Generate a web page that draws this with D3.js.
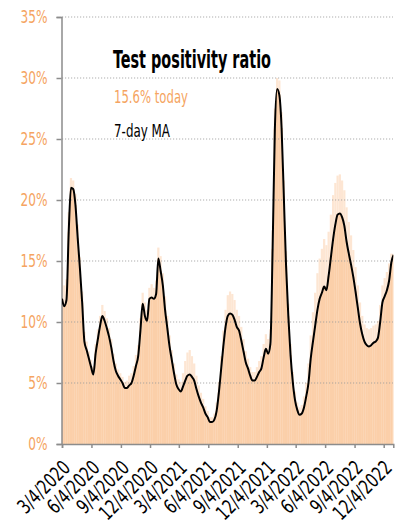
<html>
<head>
<style>
body { margin: 0; background: #fff; }
text { font-family: "Liberation Sans Narrow", "DejaVu Sans Condensed", sans-serif; }
</style>
</head>
<body>
<svg width="402" height="521"></svg>
<script src="https://cdn.jsdelivr.net/npm/d3@7"></script>
<script>
// weekly readings, first week starts 3/4/2020
let startDate = new Date(2020, 2, 4);
let endDate = new Date(2023, 0, 3);

// 7-day moving average (%)
let ma = [11.9, 11.3, 11.8, 17.4, 21.0, 20.9, 19.6, 16.9, 14.4, 11.6,
  8.4, 7.7, 7.0, 6.3, 5.7, 7.4, 8.6, 9.7, 10.5, 10.1,
  9.5, 8.8, 7.9, 6.8, 6.0, 5.6, 5.3, 5.0, 4.6, 4.6,
  4.8, 5.0, 5.6, 6.4, 7.2, 9.3, 11.5, 10.5, 10.1, 11.9,
  12.0, 11.9, 12.3, 15.2, 14.2, 13.0, 11.0, 9.5, 8.0, 6.9,
  5.8, 4.9, 4.5, 4.3, 4.7, 5.2, 5.6, 5.7, 5.5, 5.2,
  4.5, 3.9, 3.4, 3.0, 2.5, 2.2, 1.8, 1.8, 2.0, 2.7,
  4.2, 6.1, 8.0, 9.6, 10.5, 10.7, 10.6, 10.2, 9.6, 9.3,
  8.5, 7.6, 6.7, 6.2, 5.6, 5.2, 5.2, 5.5, 5.9, 6.2,
  7.1, 7.8, 7.4, 8.2, 16.0, 25.8, 29.1, 28.6, 25.9, 20.3,
  14.6, 10.5, 7.3, 5.1, 3.6, 2.8, 2.4, 2.5, 3.0, 3.9,
  5.0, 7.0, 8.4, 9.7, 11.0, 11.9, 12.4, 12.9, 12.6, 13.8,
  15.3, 16.8, 18.0, 18.8, 18.9, 18.6, 17.9, 16.6, 15.6, 14.7,
  13.7, 12.5, 11.2, 9.9, 9.0, 8.4, 8.1, 8.0, 8.1, 8.3,
  8.4, 8.7, 10.0, 11.6, 12.1, 12.6, 13.4, 14.9, 15.5];

// highest daily reading of each week (%)
let daily = [14.5, 13.0, 13.5, 19.0, 21.8, 21.6, 20.5, 18.0, 15.3, 12.5,
  9.2, 8.4, 7.6, 6.9, 6.4, 8.2, 9.4, 10.5, 11.4, 10.9,
  10.3, 9.5, 8.6, 7.4, 6.6, 6.1, 5.8, 5.5, 5.1, 5.2,
  5.6, 5.8, 6.4, 7.3, 8.1, 10.3, 12.4, 11.6, 11.0, 12.8,
  13.1, 12.8, 13.4, 16.1, 15.4, 14.0, 12.1, 10.5, 8.9, 7.7,
  6.6, 5.7, 5.3, 5.1, 5.8, 6.8, 7.5, 7.7, 7.2, 6.6,
  5.6, 4.8, 4.2, 3.7, 3.1, 2.7, 2.2, 2.2, 2.5, 3.4,
  5.1, 7.2, 9.3, 11.0, 12.2, 12.5, 12.3, 11.8, 11.0, 10.5,
  9.6, 8.6, 7.6, 7.0, 6.3, 5.9, 5.9, 6.3, 6.8, 7.2,
  8.2, 9.0, 8.6, 9.4, 17.5, 27.5, 30.0, 29.8, 27.2, 21.6,
  15.8, 11.5, 8.2, 5.9, 4.3, 3.4, 3.0, 3.2, 3.9, 5.0,
  6.6, 8.9, 10.8, 12.4, 14.0, 15.2, 16.0, 16.8, 16.3, 17.4,
  18.8, 20.4, 21.4, 22.0, 22.1, 21.6, 20.8, 19.4, 18.2, 17.1,
  15.9, 14.5, 13.0, 11.6, 10.5, 9.8, 9.5, 9.4, 9.5, 9.7,
  9.8, 10.1, 11.4, 13.0, 13.6, 14.1, 14.8, 15.6, 15.6];

let yTicks = [0, 5, 10, 15, 20, 25, 30, 35];
let xTicks = ["3/4/2020", "6/4/2020", "9/4/2020", "12/4/2020", "3/4/2021", "6/4/2021",
  "9/4/2021", "12/4/2021", "3/4/2022", "6/4/2022", "9/4/2022", "12/4/2022"];

let title = "Test positivity ratio";
let today = "15.6% today";
let maLabel = "7-day MA";

let orange = "#f5a461";
let fill = "#fbcfa9";

let parse = d3.timeParse("%-m/%-d/%Y");
let data = ma.map(function(v, i) {
  return { date: d3.timeDay.offset(startDate, 7 * i), ma: v, high: daily[i] };
});

let svg = d3.select("svg");
let x = d3.scaleTime().domain([startDate, endDate]).range([62, 393.3]);
let y = d3.scaleLinear().domain([0, 35]).range([444, 17]);

svg.append("clipPath").attr("id", "plot")
  .append("rect").attr("x", 62).attr("y", 0).attr("width", 331.3).attr("height", 444);

let bw = x(d3.timeDay.offset(startDate, 7)) - x(startDate);

let bars = svg.append("g").attr("clip-path", "url(#plot)");
bars.selectAll(".high").data(data).join("rect")
  .attr("class", "high")
  .attr("x", function(d) { return x(d.date) - bw / 2; })
  .attr("width", bw)
  .attr("y", function(d) { return y(d.high); })
  .attr("height", function(d) { return y(0) - y(d.high); })
  .attr("fill", "#fde6d3");
bars.selectAll(".low").data(data).join("rect")
  .attr("class", "low")
  .attr("x", function(d) { return x(d.date) - bw / 2; })
  .attr("width", bw)
  .attr("y", function(d) { return y(d.ma); })
  .attr("height", function(d) { return y(0) - y(d.ma); })
  .attr("fill", fill);

// gridlines
svg.append("g").selectAll("line").data(yTicks.slice(1)).join("line")
  .attr("x1", 62).attr("x2", 393)
  .attr("y1", function(d) { return y(d); })
  .attr("y2", function(d) { return y(d); })
  .attr("stroke", "#9a9a9a")
  .attr("stroke-opacity", 0.8)
  .attr("stroke-dasharray", "1.2,1.8");

// y axis
let yAxis = svg.append("g").attr("transform", "translate(61.5,0)")
  .call(d3.axisLeft(y).tickValues(yTicks).tickSize(5).tickPadding(9)
    .tickFormat(function(d) { return d + "%"; }));
yAxis.select(".domain").attr("stroke", "#8c8c8c").attr("stroke-width", 1.5);
yAxis.selectAll(".tick line").attr("stroke", "#8c8c8c").attr("stroke-width", 1.5);
yAxis.selectAll(".tick text").attr("fill", orange).attr("font-size", 18)
  .attr("x", -18.7)
  .attr("transform", "scale(0.75,1)")
  .style("font-family", null);

// x axis
let xAxis = svg.append("g").attr("transform", "translate(0,444)")
  .call(d3.axisBottom(x).tickValues(xTicks.map(parse)).tickSize(4)
    .tickFormat(d3.timeFormat("%-m/%-d/%Y")));
xAxis.select(".domain").attr("stroke", "#8c8c8c").attr("stroke-width", 1.5);
xAxis.selectAll(".tick line").attr("stroke", "#8c8c8c").attr("stroke-width", 1.5);
xAxis.selectAll(".tick text")
  .attr("fill", "#000").attr("font-size", 20)
  .attr("text-anchor", "end")
  .attr("dy", 0)
  .attr("transform", "translate(9,25) rotate(-45) scale(0.8,1)")
  .attr("y", 0).attr("x", 0);

// moving average line
svg.append("path").datum(data)
  .attr("clip-path", "url(#plot)")
  .attr("fill", "none")
  .attr("stroke", "#000")
  .attr("stroke-width", 2)
  .attr("stroke-linejoin", "round")
  .attr("d", d3.line()
    .x(function(d) { return x(d.date); })
    .y(function(d) { return y(d.ma); })
    .curve(d3.curveMonotoneX));

// labels
svg.append("text").attr("x", 113).attr("y", 68)
  .attr("font-size", 25).attr("font-weight", "bold")
  .attr("textLength", 158).attr("lengthAdjust", "spacingAndGlyphs")
  .text(title);
svg.append("text").attr("x", 114).attr("y", 103)
  .attr("font-size", 18).attr("fill", orange)
  .attr("textLength", 74).attr("lengthAdjust", "spacingAndGlyphs")
  .text(today);
svg.append("text").attr("x", 114).attr("y", 137)
  .attr("font-size", 18).attr("fill", "#000")
  .attr("textLength", 56).attr("lengthAdjust", "spacingAndGlyphs")
  .text(maLabel);
</script>
</body>
</html>
